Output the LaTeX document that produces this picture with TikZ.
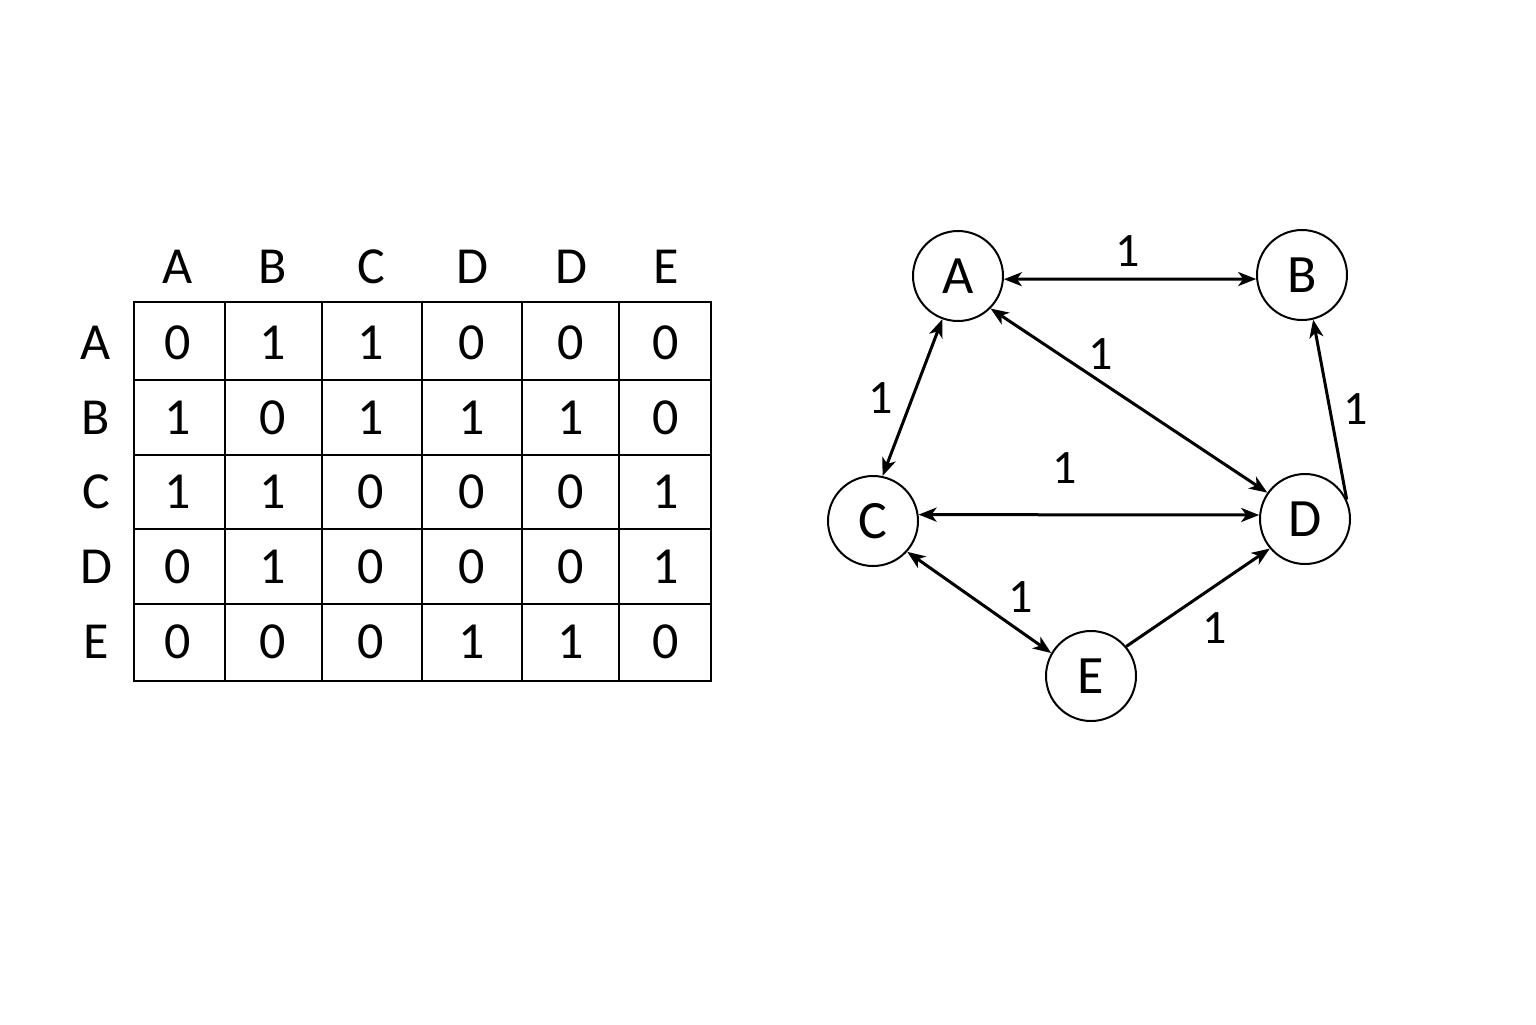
\documentclass[tikz,border=0pt]{standalone}
\usepackage{fontspec}
\setmainfont{Carlito}
\usepackage{tikz}
\usetikzlibrary{arrows.meta,positioning,calc}

\begin{document}
\begin{tikzpicture}[x=0.5pt, y=-0.5pt, >={Stealth[length=9pt,width=7pt,inset=2.5pt]},
    cell/.style={font=\fontsize{26}{30}\selectfont, inner sep=0pt},
    vertex/.style={draw, circle, line width=1pt, minimum size=45pt, inner sep=0pt, font=\fontsize{27}{30}\selectfont},
    link/.style={line width=1.5pt},
    weight/.style={font=\fontsize{24}{28}\selectfont, inner sep=1pt}]
    \useasboundingbox (0,0) rectangle (1536,1024);

    % adjacency table
    \draw [line width=0.75pt] (134,302) rectangle (711,681);
    \foreach \gx in {225,322,422,522,619} \draw [line width=0.75pt] (\gx,302) -- (\gx,681);
    \foreach \gy in {380,455,529,604} \draw [line width=0.75pt] (134,\gy) -- (711,\gy);

    \foreach \lab/\cx [count=\c] in {A/178,B/273,C/371,D/472,D/571,E/666}
        \node [cell] (hd\c) at (\cx,267) {\lab};
    \foreach \lab/\ry [count=\r] in {A/343,B/418,C/492,D/567,E/642}
        \node [cell] (rl\r) at (96,\ry) {\lab};

    \foreach \row/\ry [count=\r] in {{0,1,1,0,0,0}/343,{1,0,1,1,1,0}/418,{1,1,0,0,0,1}/492,{0,1,0,0,0,1}/567,{0,0,0,1,1,0}/642}
        \foreach \val [count=\c] in \row {
            \pgfmathsetmacro{\cx}{{178,273,371,472,571,666}[\c-1]}
            \node [cell] (cell\r\c) at (\cx,\ry) {\val};
        }

    % graph
    \node [vertex] (A) at (958,276) {A};
    \node [vertex] (B) at (1302,275) {B};
    \node [vertex] (C) at (873,521) {C};
    \node [vertex] (D) at (1305,519) {D};
    \node [vertex] (E) at (1091,676) {E};

    \draw [link, <->] (A.-4) -- (B.185);
    \draw [link, <->] (A.-110) -- (C.78);
    \draw [link, <->] (A.-45) -- (D.145);
    \draw [link, <->] (C.8) -- (D.175);
    \draw [link, ->] (D.25) -- (B.-76);
    \draw [link, <->] (C.-42) -- (E.150);
    \draw [link, ->] (E.40) -- (D.-140);

    \node [weight] (wab) at (1128,251) {1};
    \node [weight] (wac) at (881,398) {1};
    \node [weight] (wad) at (1101,354) {1};
    \node [weight] (wcd) at (1065,468) {1};
    \node [weight] (wdb) at (1356,409) {1};
    \node [weight] (wce) at (1021,597) {1};
    \node [weight] (wed) at (1215,628) {1};
\end{tikzpicture}
\end{document}
